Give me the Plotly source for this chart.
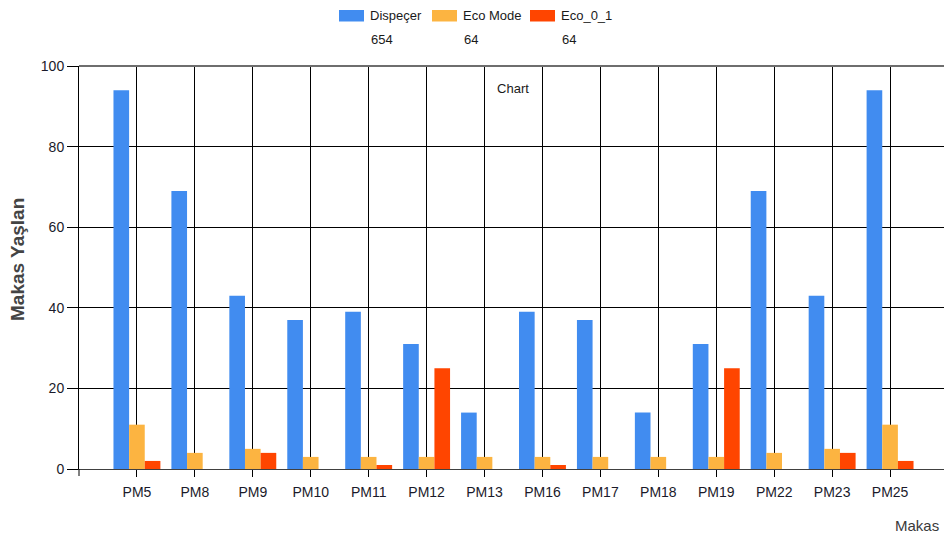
import plotly.graph_objects as go

categories = ["PM5", "PM8", "PM9", "PM10", "PM11", "PM12", "PM13",
              "PM16", "PM17", "PM18", "PM19", "PM22", "PM23", "PM25"]
dispecer = [94, 69, 43, 37, 39, 31, 14, 39, 37, 14, 31, 69, 43, 94]
eco_mode = [11, 4, 5, 3, 3, 3, 3, 3, 3, 3, 3, 4, 5, 11]
eco_0_1 = [2, 0, 4, 0, 1, 25, 0, 1, 0, 0, 25, 0, 4, 2]
series_names = ["Dispeçer", "Eco Mode", "Eco_0_1"]
y_ticks = [0, 20, 40, 60, 80, 100]

colors = ["#418CF0", "#FCB441", "#FF4500"]
FONT = "Liberation Sans, Arial, sans-serif"
OFF = 8  # page body margin
W, H = 952 - OFF, 539 - OFF
# plot area in screen pixels: x 79..948, y 66..469
ML, MR, MT, MB = 79 - OFF, 952 - 948, 66 - OFF, 539 - 469
PW, PH = W - ML - MR, H - MT - MB


def px(x):
    return (x - OFF - ML) / PW


def py(y):
    return (469 - y) / PH


fig = go.Figure()
for name, vals, col in zip(series_names, [dispecer, eco_mode, eco_0_1], colors):
    fig.add_trace(go.Bar(x=categories, y=vals, name=name,
                         marker=dict(color=col, line=dict(width=0)),
                         showlegend=False))

shapes = []
annotations = []
# manual legend (swatch + name + total)
leg_x = [339, 432, 530]
for i, (name, vals, col) in enumerate(zip(series_names, [dispecer, eco_mode, eco_0_1], colors)):
    x0 = leg_x[i]
    shapes.append(dict(type="rect", xref="paper", yref="paper",
                       x0=px(x0), x1=px(x0 + 25), y0=py(21.5), y1=py(10),
                       fillcolor=col, line=dict(width=0)))
    annotations.append(dict(xref="paper", yref="paper", x=px(x0 + 29), y=py(16),
                            text=name, showarrow=False, xanchor="left", yanchor="middle",
                            font=dict(family=FONT, size=13, color="#1a1a1a")))
    annotations.append(dict(xref="paper", yref="paper", x=px(x0 + 30), y=py(39.5),
                            text=str(sum(vals)), showarrow=False, xanchor="left",
                            yanchor="middle",
                            font=dict(family=FONT, size=13, color="#1a1a1a")))

# x-axis title at bottom right
annotations.append(dict(xref="paper", yref="paper", x=px(917), y=py(525),
                        text="Makas", showarrow=False, xanchor="center", yanchor="middle",
                        font=dict(family=FONT, size=15, color="#3a3a3a")))
# y-axis title
annotations.append(dict(xref="paper", yref="paper", x=px(17), y=py(260),
                        text="<b>Makas Yaşlan</b>", showarrow=False, textangle=-90,
                        xanchor="center", yanchor="middle",
                        font=dict(family=FONT, size=19, color="#444444")))

# top and right border
shapes.append(dict(type="line", xref="paper", yref="paper", x0=0, x1=1, y0=1, y1=1,
                   line=dict(color="#6e6e6e", width=2), layer="above"))
shapes.append(dict(type="line", xref="paper", yref="paper", x0=1, x1=1, y0=-7 / PH, y1=1,
                   line=dict(color="#6e6e6e", width=2), layer="above"))
# y-axis stub below the axis
shapes.append(dict(type="line", xref="paper", yref="paper", x0=0, x1=0, y0=-7 / PH, y1=0,
                   line=dict(color="black", width=1)))

fig.update_layout(
    width=W, height=H,
    margin=dict(l=ML, r=MR, t=MT, b=MB, autoexpand=False),
    paper_bgcolor="white", plot_bgcolor="white",
    barmode="group", bargap=0.19, bargroupgap=0,
    title=dict(text="Chart", x=(513 - OFF) / W, xref="container", xanchor="center",
               y=1 - (88 - OFF) / H, yref="container", yanchor="middle",
               font=dict(family=FONT, size=13, color="#1a1a1a")),
    shapes=shapes, annotations=annotations,
    xaxis=dict(range=[-1, 14], type="category", showgrid=True, gridcolor="black", gridwidth=1,
               showline=True, linecolor="#404040", linewidth=1,
               ticks="outside", ticklen=7, tickcolor="black", ticklabelstandoff=3,
               tickfont=dict(family=FONT, size=14, color="#1a1a2a")),
    yaxis=dict(range=[0, 100], tickvals=y_ticks, showgrid=True, gridcolor="black", gridwidth=1,
               zeroline=False, showline=True, linecolor="black", linewidth=1,
               ticks="outside", ticklen=11, tickcolor="black",
               tickfont=dict(family=FONT, size=14, color="#1a1a2a")),
)

fig.write_html("out.html")
